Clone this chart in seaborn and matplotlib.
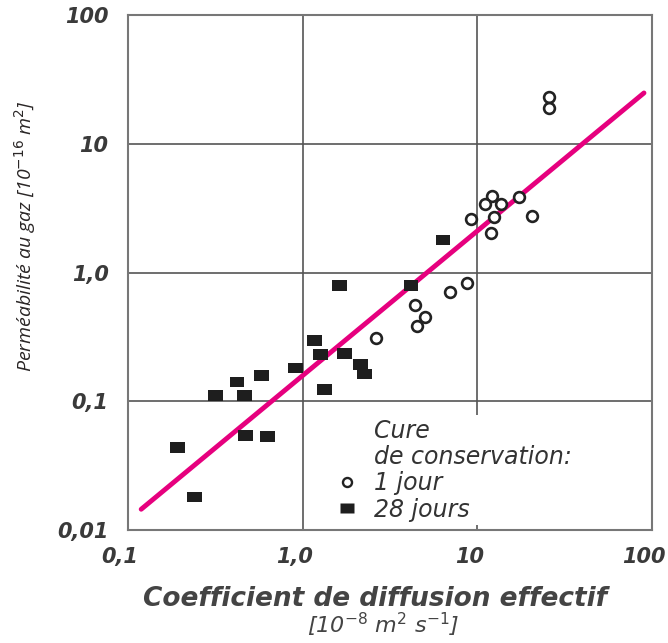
import numpy as np
import pandas as pd
import matplotlib
matplotlib.use("Agg")
import matplotlib.pyplot as plt
import matplotlib.transforms as mtrans
from matplotlib.lines import Line2D
import seaborn as sns

# 1 jour (open circles)
d_1j = [25.9, 25.9, 12.1, 11.1, 13.6, 17.3, 9.24, 12.4, 20.7, 11.9, 8.68, 6.97, 4.37, 5.01, 4.53, 2.63]
k_1j = [22.9, 18.9, 3.9, 3.4, 3.42, 3.88, 2.60, 2.72, 2.74, 2.02, 0.827, 0.708, 0.558, 0.455, 0.383, 0.309]

# 28 jours (filled squares)
d_28j = [1.62, 1.17, 1.27, 1.73, 2.15, 2.26, 0.915, 1.33, 0.579, 0.421, 0.317, 0.463,
         0.473, 0.630, 0.191, 0.239, 6.36, 4.17]
k_28j = [0.79, 0.295, 0.232, 0.236, 0.194, 0.163, 0.181, 0.124, 0.158, 0.141, 0.111, 0.111,
         0.054, 0.053, 0.0437, 0.018, 1.79, 0.79]

# regression line end points
line_x = [0.119, 90]
line_y = [0.0145, 24.8]

ticks_x = [0.1, 1, 10, 100]
labels_x = ["0,1", "1,0", "10", "100"]
ticks_y = [0.01, 0.1, 1, 10, 100]
labels_y = ["0,01", "0,1", "1,0", "10", "100"]

df1 = pd.DataFrame({"D": d_1j, "K": k_1j})
df28 = pd.DataFrame({"D": d_28j, "K": k_28j})
dfl = pd.DataFrame({"D": line_x, "K": line_y})

sns.set_style("white")
txt = "#3a3a3a"
grid_c = "#555555"

fig = plt.figure(figsize=(6.68, 6.43), dpi=100)
ax = fig.add_axes([0.1916, 0.1757, 0.7844, 0.801])
ax.set_xscale("log")
ax.set_yscale("log")

rect = [(-1.4, -1), (1.4, -1), (1.4, 1), (-1.4, 1), (-1.4, -1)]

sns.lineplot(data=dfl, x="D", y="K", ax=ax, color="#e6007e", lw=3.5, zorder=3)
sns.scatterplot(data=df1, x="D", y="K", ax=ax, marker="o", s=60, facecolor="white",
                edgecolor="#222222", linewidth=1.9, zorder=4)
sns.scatterplot(data=df28, x="D", y="K", ax=ax, marker=rect, s=115, color="#1e1e1e",
                edgecolor="none", zorder=4)

ax.set_xlim(0.1, 100)
ax.set_ylim(0.01, 100)
ax.set_xticks(ticks_x)
ax.set_xticklabels(labels_x)
ax.set_yticks(ticks_y)
ax.set_yticklabels(labels_y)
ax.minorticks_off()
ax.tick_params(axis="x", length=0, pad=12.5)
ax.tick_params(axis="y", length=0, pad=14)
shift = mtrans.ScaledTranslation(-8 / 100, 0, fig.dpi_scale_trans)
for lab in ax.get_xticklabels():
    lab.set_transform(lab.get_transform() + shift)
for lab in ax.get_xticklabels() + ax.get_yticklabels():
    lab.set_fontweight("bold")
    lab.set_fontstyle("italic")
    lab.set_fontsize(15)
    lab.set_color(txt)

ax.grid(True, color=grid_c, lw=1.2, zorder=0)
ax.set_axisbelow(True)
for sp in ax.spines.values():
    sp.set_color("#777777")
    sp.set_linewidth(1.5)
    sp.set_zorder(6)

ax.set_xlabel("Coefficient de diffusion effectif", fontsize=19, fontweight="bold",
              fontstyle="italic", color="#444444")
ax.xaxis.set_label_coords(0.472, -0.134, transform=ax.transAxes)
ax.xaxis.label.set_va("center")
fig.text(0.573, 0.028, r"[10$^{-8}$ m$^{2}$ s$^{-1}$]", ha="center", va="center",
         fontsize=16, fontstyle="italic", color="#444444")
ax.set_ylabel(r"Perméabilité au gaz [10$^{-16}$ m$^{2}$]", fontsize=14,
              fontstyle="italic", color="#2a2626", family="Open Sans")
ax.yaxis.set_label_coords(-0.172, 0.571)

handles = [Line2D([], [], ls="none"), Line2D([], [], ls="none"),
           Line2D([], [], ls="none", marker="o", ms=6.5, mfc="white", mec="#222222", mew=1.7),
           Line2D([], [], ls="none", marker=rect, ms=10, mfc="#1e1e1e", mec="none")]
labels = ["Cure", "de conservation:", "1 jour", "28 jours"]
leg = ax.legend(handles, labels, loc="upper left", bbox_to_anchor=(0.369, 0.246),
                frameon=True, fancybox=False, edgecolor="none", framealpha=1,
                prop={"style": "italic", "size": 17},
                labelcolor="#333333", handlelength=0.9, handletextpad=0.7,
                labelspacing=0.1, borderpad=0.15)
leg.set_zorder(5)

fig.savefig("out.png", dpi=100)
